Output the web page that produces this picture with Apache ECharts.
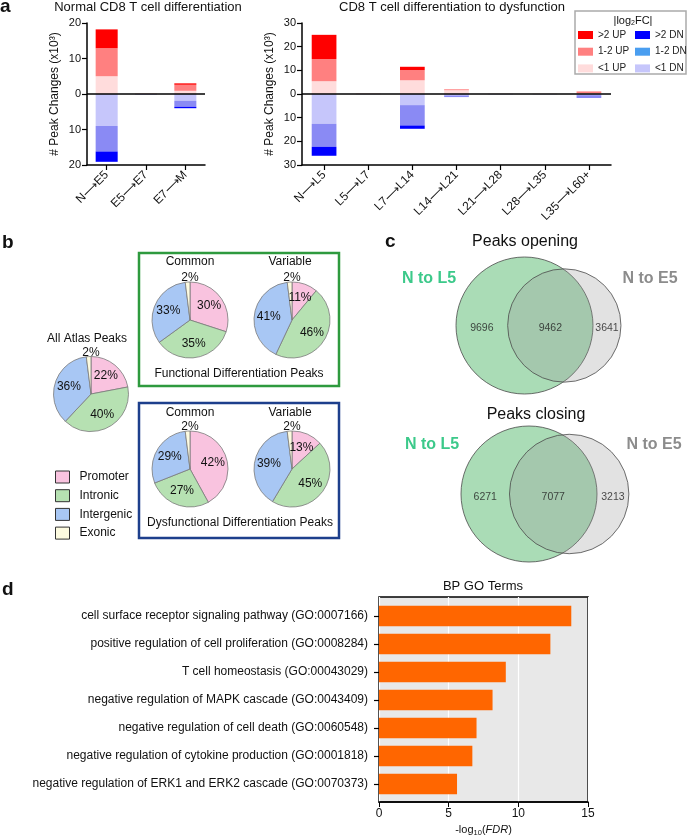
<!DOCTYPE html>
<html><head><meta charset="utf-8">
<script src="https://cdn.jsdelivr.net/npm/echarts@6/dist/echarts.min.js"></script>
<style>html,body{margin:0;padding:0;background:#fff}#c{width:690px;height:838px}</style>
</head><body><div id="c"></div><script>
// ---------- DATA ----------
const normCats = ['N\u27f6E5', 'E5\u27f6E7', 'E7\u27f6M'];
const normUp1  = [5.0, 0.2, 0.9];
const normUp12 = [7.9, 0, 1.7];
const normUp2  = [5.3, 0, 0.4];
const normDn1  = [9.0, 0.2, 1.9];
const normDn12 = [7.2, 0, 1.7];
const normDn2  = [2.9, 0, 0.4];

const dysCats = ['N\u27f6L5', 'L5\u27f6L7', 'L7\u27f6L14', 'L14\u27f6L21', 'L21\u27f6L28', 'L28\u27f6L35', 'L35\u27f6L60+'];
const dysUp1  = [5.4, 0.3, 5.8, 1.6, 0.15, 0.15, 0.3];
const dysUp12 = [9.4, 0, 4.3, 0.4, 0, 0, 0.8];
const dysUp2  = [10.2, 0, 1.4, 0, 0, 0, 0];
const dysDn1  = [12.6, 0.1, 4.7, 0.6, 0.15, 0.15, 0.5];
const dysDn12 = [9.7, 0, 8.6, 0.7, 0, 0, 1.2];
const dysDn2  = [3.8, 0, 1.4, 0, 0, 0, 0];

const regionNames = ['Promoter', 'Intronic', 'Intergenic', 'Exonic'];
const pieAll          = [22, 40, 36, 2];
const pieFuncCommon   = [30, 35, 33, 2];
const pieFuncVariable = [11, 46, 41, 2];
const pieDysCommon    = [42, 27, 29, 2];
const pieDysVariable  = [13, 45, 39, 2];

const vennSets = ['N to L5', 'N to E5'];
const openCounts  = [9696, 9462, 3641];   // L5 only, both, E5 only
const closeCounts = [6271, 7077, 3213];

const goTerms = [
  'cell surface receptor signaling pathway (GO:0007166)',
  'positive regulation of cell proliferation (GO:0008284)',
  'T cell homeostasis (GO:00043029)',
  'negative regulation of MAPK cascade (GO:0043409)',
  'negative regulation of cell death (GO:0060548)',
  'negative regulation of cytokine production (GO:0001818)',
  'negative regulation of ERK1 and ERK2 cascade (GO:0070373)'
];
const goValues = [13.8, 12.3, 9.1, 8.15, 7.0, 6.7, 5.6];

// ---------- STYLE ----------
const FF = '"Liberation Sans", Arial, Helvetica, sans-serif';
const C = {up2:'#ff0000', up12:'#ff8080', up1:'#ffdcdc', dn2:'#0000ff', dn12:'#8a8af4', dn1:'#c6c6fb'};
const regionColors = ['#f9c3df', '#b6e1b2', '#a8c7f4', '#fdfbe0'];

const chart = echarts.init(document.getElementById('c'));

function barSeries(gi, up1, up12, up2, dn1, dn12, dn2) {
  const base = {type:'bar', xAxisIndex:gi, yAxisIndex:gi, barWidth:'56%', stack:'s'+gi,
                stackStrategy:'samesign', silent:true, animation:false};
  return [
    Object.assign({}, base, {name:'<1 UP', data:up1, itemStyle:{color:C.up1},
      markLine:{silent:true, symbol:'none', label:{show:false}, animation:false,
        lineStyle:{color:'#000', width:1.5, type:'solid'}, data:[{yAxis:0}]}}),
    Object.assign({}, base, {name:'1-2 UP', data:up12, itemStyle:{color:C.up12}}),
    Object.assign({}, base, {name:'>2 UP', data:up2, itemStyle:{color:C.up2}}),
    Object.assign({}, base, {name:'<1 DN', data:dn1.map(v=>-v), itemStyle:{color:C.dn1}}),
    Object.assign({}, base, {name:'1-2 DN', data:dn12.map(v=>-v), itemStyle:{color:C.dn12}}),
    Object.assign({}, base, {name:'>2 DN', data:dn2.map(v=>-v), itemStyle:{color:C.dn2}})
  ];
}

function pieSeries(vals, cx, cy, r) {
  const total = vals.reduce((a, b) => a + b, 0);
  return {type:'pie', center:[cx, cy], radius:r, startAngle:90, clockwise:true, silent:true,
    animation:false, avoidLabelOverlap:false,
    label:{show:true, position:'inside', formatter:'{c}%', fontSize:12, color:'#111', fontFamily:FF},
    labelLine:{show:false},
    labelLayout: p => {
      const i = p.dataIndex;
      if (i === 3) return {x:cx, y:cy - r - 4, align:'center', verticalAlign:'middle'};
      let start = 0;
      for (let k = 0; k < i; k++) start += vals[k];
      const th = (start + vals[i] / 2) / total * 2 * Math.PI;
      return {x:cx + 0.62 * r * Math.sin(th), y:cy - 0.62 * r * Math.cos(th), align:'center', verticalAlign:'middle'};
    },
    itemStyle:{borderColor:'#7a7a7a', borderWidth:0.8},
    data: regionNames.map((n, i) => ({name:n, value:vals[i], itemStyle:{color:regionColors[i]}}))
  };
}

// area-proportional two-set Venn
function lens(r1, r2, d) {
  if (d >= r1 + r2) return 0;
  if (d <= Math.abs(r1 - r2)) return Math.PI * Math.min(r1, r2) ** 2;
  const a = r1*r1*Math.acos((d*d + r1*r1 - r2*r2) / (2*d*r1));
  const b = r2*r2*Math.acos((d*d + r2*r2 - r1*r1) / (2*d*r2));
  const c = 0.5*Math.sqrt((-d+r1+r2)*(d+r1-r2)*(d-r1+r2)*(d+r1+r2));
  return a + b - c;
}
function vennLayout(counts) {
  const A = counts[0] + counts[1], B = counts[1] + counts[2];
  const r1 = 1, r2 = Math.sqrt(B / A);
  const target = Math.PI * counts[1] / A;
  let lo = Math.abs(r1 - r2) + 1e-9, hi = r1 + r2;
  for (let i = 0; i < 80; i++) {
    const mid = (lo + hi) / 2;
    if (lens(r1, r2, mid) > target) lo = mid; else hi = mid;
  }
  return {r1, r2, d:(lo + hi) / 2};
}
function vennSeries(gi, counts) {
  const v = vennLayout(counts);
  return [
    {type:'custom', xAxisIndex:gi, yAxisIndex:gi, silent:true, animation:false,
      data:[[0, v.r1, 0], [v.d, v.r2, 1]],
      renderItem:(params, api) => {
        const c = api.coord([api.value(0), 0]);
        const rr = api.size([api.value(1), 0])[0];
        const idx = api.value(2);
        return {type:'circle', shape:{cx:c[0], cy:c[1], r:rr},
          style:{fill: idx === 0 ? '#aadcb6' : 'rgba(150,150,150,0.28)', stroke:'#4a4a4a', lineWidth:0.8}};
      }},
    {type:'scatter', xAxisIndex:gi, yAxisIndex:gi, silent:true, animation:false, symbolSize:1,
      itemStyle:{color:'rgba(0,0,0,0)'},
      data:[[(-v.r1 + v.d - v.r2) / 2, 0, counts[0]], [(v.d - v.r2 + v.r1) / 2, 0, counts[1]], [(v.r1 + v.d + v.r2) / 2, 0, counts[2]]],
      label:{show:true, position:'inside', offset:[0, 3], formatter:p => p.value[2], fontSize:10.5, color:'#222', fontFamily:FF}}
  ];
}

function T(text, x, y, size, o) {
  o = o || {};
  return {type:'text', x:x, y:y, silent:true, z:100,
    style:{text:text, fill:o.color || '#111', font:(o.bold ? 'bold ' : '') + size + 'px ' + FF,
      textAlign:o.align || 'center', textVerticalAlign:o.va || 'middle',
      align:o.align || 'center', verticalAlign:o.va || 'middle', rich:o.rich}};
}

const axLine = {show:true, onZero:false, lineStyle:{color:'#000', width:1.5}};
const axTick = {show:true, length:5, lineStyle:{color:'#000', width:1.2}};
function catX(gi, cats) {
  return {type:'category', gridIndex:gi, data:cats, axisLine:axLine,
    axisTick:Object.assign({alignWithLabel:true}, axTick),
    axisLabel:{rotate:45, fontSize:12, color:'#111', margin:8, fontFamily:FF, interval:0}};
}
function valY(gi, m, gap) {
  return {type:'value', gridIndex:gi, min:-m, max:m, interval:10, axisLine:axLine, axisTick:axTick,
    splitLine:{show:false}, axisLabel:{fontSize:11, color:'#111', margin:6, formatter:v => Math.abs(v)},
    name:'# Peak Changes (x10\u00b3)', nameLocation:'middle', nameGap:gap,
    nameTextStyle:{fontSize:12, color:'#111', fontFamily:FF}};
}

const legTxt = {fontSize:10, lineHeight:12, color:'#222'};
const option = {
  animation:false,
  textStyle:{fontFamily:FF},
  grid:[
    {left:87, top:23, width:118, height:142},
    {left:302, top:23, width:309, height:142},
    {left:456, top:257, width:205.5, height:137},
    {left:461, top:426, width:204, height:136},
    {left:379, top:597, width:209, height:206, show:true, backgroundColor:'#e8e8e8', borderColor:'#000', borderWidth:1.5},
    {left:379, top:602, width:209, height:196}
  ],
  xAxis:[
    catX(0, normCats),
    catX(1, dysCats),
    {type:'value', gridIndex:2, min:-1, max:2, show:false},
    {type:'value', gridIndex:3, min:-1, max:2, show:false},
    {type:'value', gridIndex:4, min:0, max:15, interval:5, axisLine:{show:true, lineStyle:{color:'#000', width:1.5}},
      axisTick:{show:true, length:5, lineStyle:{color:'#000'}},
      axisLabel:{fontSize:12, color:'#111', margin:6},
      splitLine:{show:true, lineStyle:{color:'#fff', width:1.2}},
      name:'-log{s|10}({i|FDR})', nameLocation:'middle', nameGap:21,
      nameTextStyle:{fontSize:11, color:'#111', rich:{s:{fontSize:7.5, padding:[6,0,0,0], color:'#111'}, i:{fontSize:11, fontStyle:'italic', color:'#111'}}}},
    {type:'value', gridIndex:5, min:0, max:15, show:false}
  ],
  yAxis:[
    valY(0, 20, 26),
    valY(1, 30, 26),
    {type:'value', gridIndex:2, min:-1, max:1, show:false},
    {type:'value', gridIndex:3, min:-1, max:1, show:false},
    {type:'value', gridIndex:4, min:0, max:1, show:false},
    {type:'category', gridIndex:5, data:goTerms, inverse:true, axisLine:{show:false},
      axisTick:{show:true, alignWithLabel:true, length:5, lineStyle:{color:'#000', width:1.2}},
      axisLabel:{fontSize:12, color:'#111', margin:11}}
  ],
  legend:[
    {data:['>2 UP', '1-2 UP', '<1 UP'], orient:'vertical', left:573, top:24, itemWidth:15, itemHeight:8,
      itemGap:4.7, icon:'rect', selectedMode:false, textStyle:legTxt},
    {data:['>2 DN', {name:'1-2 DN', itemStyle:{color:'#4a9ef0'}}, '<1 DN'], orient:'vertical', left:630, top:24,
      itemWidth:15, itemHeight:8, itemGap:4.7, icon:'rect', selectedMode:false, textStyle:legTxt},
    {data:regionNames, orient:'vertical', left:50, top:465, itemWidth:14, itemHeight:12, itemGap:4.7, icon:'rect',
      selectedMode:false, itemStyle:{borderColor:'#333', borderWidth:1},
      textStyle:{fontSize:12, lineHeight:14, color:'#111', padding:[0,0,0,5]}}
  ],
  series:[].concat(
    barSeries(0, normUp1, normUp12, normUp2, normDn1, normDn12, normDn2),
    barSeries(1, dysUp1, dysUp12, dysUp2, dysDn1, dysDn12, dysDn2),
    [pieSeries(pieAll, 91, 394, 37.5),
     pieSeries(pieFuncCommon, 190, 320, 38),
     pieSeries(pieFuncVariable, 292, 320, 38),
     pieSeries(pieDysCommon, 190, 469, 38),
     pieSeries(pieDysVariable, 292, 469, 38)],
    vennSeries(2, openCounts),
    vennSeries(3, closeCounts),
    [{type:'bar', xAxisIndex:5, yAxisIndex:5, data:goValues, barWidth:'73%', silent:true,
      itemStyle:{color:'#ff6600'}}]
  ),
  graphic:[
    T('a', 0, 16, 19, {bold:true, align:'left', va:'bottom'}),
    T('Normal CD8 T cell differentiation', 148, 7, 13),
    T('CD8 T cell differentiation to dysfunction', 452, 7, 13),
    {type:'rect', shape:{x:575, y:11, width:111, height:63}, style:{fill:'none', stroke:'#aaa', lineWidth:1.5}, silent:true},
    T('|log{s|2}FC|', 633, 21, 11, {rich:{s:{fontSize:7, padding:[5,0,0,0]}}}),
    T('b', 2, 252, 19, {bold:true, align:'left', va:'bottom'}),
    T('All Atlas Peaks', 87, 339, 12),
    {type:'rect', shape:{x:139, y:253, width:200, height:133}, style:{fill:'none', stroke:'#2e9a3e', lineWidth:2.5}, silent:true},
    {type:'rect', shape:{x:139, y:403, width:200, height:135}, style:{fill:'none', stroke:'#1d3f8c', lineWidth:2.5}, silent:true},
    T('Common', 190, 262, 12), T('Variable', 290, 262, 12),
    T('Functional Differentiation Peaks', 239, 374, 12),
    T('Common', 190, 413, 12), T('Variable', 290, 413, 12),
    T('Dysfunctional Differentiation Peaks', 240, 523, 12),
    T('c', 385, 251, 19, {bold:true, align:'left', va:'bottom'}),
    T('Peaks opening', 525, 242, 16),
    T(vennSets[0], 429, 279, 16, {bold:true, color:'#3cc98a'}),
    T(vennSets[1], 650, 279, 16, {bold:true, color:'#8c8c8c'}),
    T('Peaks closing', 536, 415, 16),
    T(vennSets[0], 432, 445, 16, {bold:true, color:'#3cc98a'}),
    T(vennSets[1], 654, 445, 16, {bold:true, color:'#8c8c8c'}),
    T('d', 2, 599, 19, {bold:true, align:'left', va:'bottom'}),
    T('BP GO Terms', 483, 586, 13)
  ]
};
chart.setOption(option);
</script></body></html>
